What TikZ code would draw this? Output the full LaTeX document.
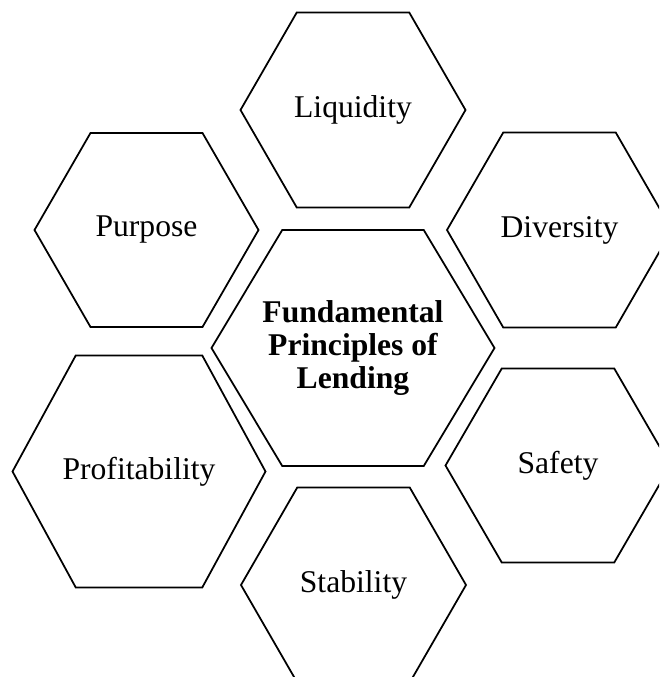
\documentclass[tikz,border=0pt]{standalone}
\usepackage{fontspec}
\setmainfont{Liberation Serif}
\usepackage{tikz}
\usetikzlibrary{calc}

\tikzset{
    cell/.style = {font=\fontsize{18}{19}\selectfont, align=center, inner sep=0pt},
    celledge/.style = {line width=1pt, line join=miter}
}
%% hexagon cell: name, centre, half width, half height, text
\newcommand{\hexcell}[5]{%
    \node[cell] (#1) at (#2) {#5};
    \draw[celledge] (#1.center) ++(-#3,0) -- ++(0.5*#3,#4) -- ++(#3,0)
        -- ++(0.5*#3,-#4) -- ++(-0.5*#3,-#4) -- ++(-#3,0) -- cycle;
}

\begin{document}
\begin{tikzpicture}
    %%Frame
    \useasboundingbox (0,0) rectangle (13.18,13.54);
    \clip (0,0) rectangle (13.18,13.54);
    %%Centre
    \hexcell{lending}{7.06,6.58}{2.83}{2.36}{\bfseries Fundamental\\ \bfseries Principles of\\ \bfseries Lending}
    %%Ring
    \hexcell{liquidity}{7.06,11.34}{2.25}{1.95}{Liquidity}
    \hexcell{purpose}{2.93,8.94}{2.24}{1.94}{Purpose}
    \hexcell{diversity}{11.19,8.94}{2.25}{1.95}{Diversity}
    \hexcell{profit}{2.78,4.11}{2.53}{2.32}{Profitability}
    \hexcell{safety}{11.16,4.23}{2.25}{1.94}{Safety}
    \hexcell{stability}{7.07,1.84}{2.25}{1.95}{Stability}
\end{tikzpicture}
\end{document}
